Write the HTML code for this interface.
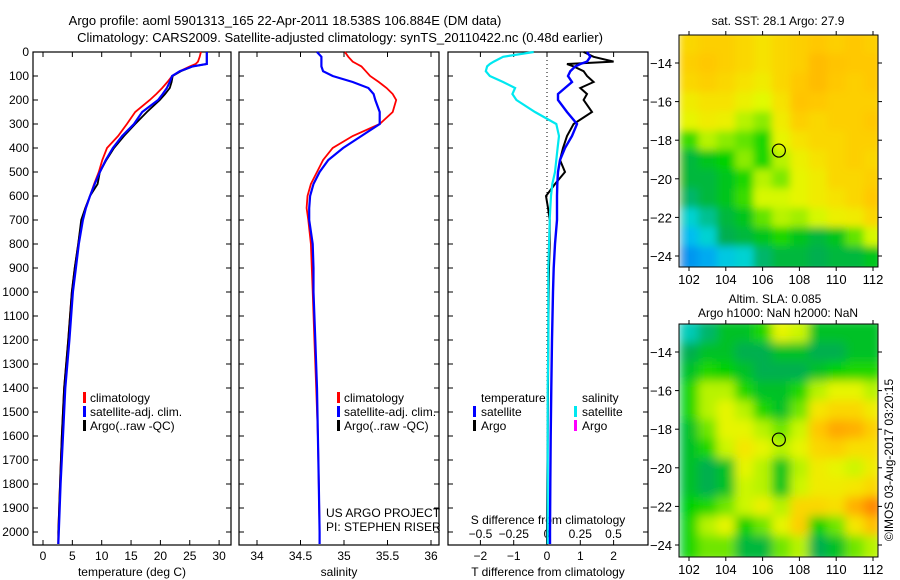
<!DOCTYPE html>
<html><head><meta charset="utf-8"><style>
body{margin:0;background:#fff;}
svg{display:block;font-family:"Liberation Sans",sans-serif;}
text{fill:#000;}
</style></head><body>
<svg id="fig" width="900" height="580" viewBox="0 0 900 580">
<defs>
<filter id="blur" x="0" y="0" width="1" height="1"><feGaussianBlur stdDeviation="4" edgeMode="duplicate"/></filter>
<filter id="blur2" x="0" y="0" width="1" height="1"><feGaussianBlur stdDeviation="5" edgeMode="duplicate"/></filter>
<clipPath id="clipM1"><rect x="679" y="35" width="199" height="232"/></clipPath>
<clipPath id="clipM2"><rect x="679" y="324" width="199" height="233"/></clipPath>
</defs>
<text x="285" y="25" font-size="13" text-anchor="middle">Argo profile: aoml 5901313_165 22-Apr-2011 18.538S 106.884E (DM data)</text>
<text x="340" y="42" font-size="13" text-anchor="middle">Climatology: CARS2009. Satellite-adjusted climatology: synTS_20110422.nc (0.48d earlier)</text>
<g id="g"></g>
</svg>
<script>
const depths=[0,20,40,50,60,80,100,125,150,175,200,250,300,350,400,450,500,550,600,650,700,800,900,1000,1200,1400,1600,1800,2000,2050];
const tempClim=[26.9,26.7,26.4,26,25,23.3,22,21.2,20.3,19.3,18.2,15.7,14.3,12.8,10.9,10.1,9.5,8.7,8,7.2,6.6,6,5.4,4.9,4.3,3.6,3.2,2.9,2.6,2.6];
const tempSat=[27.9,27.9,27.9,27.9,25.5,23.3,22,21.6,21.1,20.4,19.6,16.9,15.5,13.5,11.9,10.7,9.7,8.8,8,7.3,6.8,6.1,5.6,5.1,4.5,3.8,3.4,3.0,2.7,2.6];
const tempArgo=[27.9,27.9,27.9,27.9,25.5,23.5,22.1,21.9,21.6,20.8,19.9,17.7,15.7,13.8,12.1,10.8,9.7,9.3,8,7.2,6.5,6,5.4,4.9,4.3,3.6,3.2,2.9,2.6,2.6];
const salClim=[35.01,35.05,35.1,35.15,35.2,35.25,35.3,35.4,35.49,35.56,35.6,35.56,35.41,35.1,34.87,34.76,34.69,34.62,34.58,34.57,34.59,34.62,34.63,34.64,34.66,34.68,34.7,34.71,34.72,34.72];
const salSat=[34.69,34.74,34.74,34.74,34.74,34.76,34.87,35.1,35.28,35.34,35.36,35.41,35.41,35.2,34.99,34.82,34.72,34.65,34.61,34.6,34.6,34.64,34.65,34.65,34.67,34.69,34.7,34.71,34.72,34.72];
const dSalSat=[-0.1,-0.33,-0.4,-0.43,-0.45,-0.46,-0.43,-0.33,-0.24,-0.26,-0.23,-0.09,0.07,0.09,0.08,0.07,0.06,0.04,0.03,0.025,0.02,0.015,0.01,0.01,0.01,0.005,0.005,0.005,0.005,0.005];
const dTempSat=[1.2,1.3,1.2,1.0,0.85,0.7,0.63,0.75,0.54,0.33,0.33,0.6,0.9,0.75,0.54,0.39,0.33,0.31,0.3,0.3,0.3,0.24,0.2,0.18,0.15,0.13,0.11,0.1,0.09,0.09];
const dTempArgo=[1.1,1.4,2.0,0.6,0.8,1.1,1.2,1.4,1.0,1.2,1.1,1.35,0.8,0.6,0.48,0.39,0.54,0.24,-0.03,0.03,0.08,0.08,0.06,0.05,0.04,0.03,0.02,0.01,0.0,0.0];
const depthTicks=[0,100,200,300,400,500,600,700,800,900,1000,1100,1200,1300,1400,1500,1600,1700,1800,1900,2000];
const tempTicks=[0,5,10,15,20,25,30];
const salTicks=[34,34.5,35,35.5,36];
const salTickLabels=["34","34.5","35","35.5","36"];
const tdTicks=[-2,-1,0,1,2];
const sdTicks=[-0.5,-0.25,0,0.25,0.5];
const sdTickLabels=["\u22120.5","\u22120.25","0","0.25","0.5"];
const lonTicks=[102,104,106,108,110,112];
const latTicks=[-14,-16,-18,-20,-22,-24];
const gridLats=[-13,-14,-15,-16,-17,-18,-19,-20,-21,-22,-23,-24];
const gridLons=[102,103,104,105,106,107,108,109,110,111,112];
const sstGrid=[
[0.78,0.8,0.8,0.78,0.75,0.78,0.8,0.82,0.8,0.82,0.8],
[0.8,0.82,0.8,0.78,0.75,0.78,0.8,0.85,0.83,0.82,0.82],
[0.78,0.8,0.78,0.75,0.72,0.78,0.82,0.85,0.82,0.8,0.82],
[0.72,0.75,0.75,0.7,0.66,0.75,0.83,0.82,0.8,0.8,0.8],
[0.68,0.72,0.7,0.62,0.58,0.72,0.8,0.78,0.8,0.8,0.82],
[0.52,0.62,0.58,0.55,0.5,0.68,0.75,0.78,0.78,0.8,0.8],
[0.42,0.45,0.48,0.58,0.5,0.62,0.7,0.75,0.78,0.8,0.78],
[0.42,0.42,0.45,0.5,0.62,0.57,0.68,0.72,0.78,0.78,0.8],
[0.38,0.42,0.45,0.52,0.65,0.65,0.68,0.72,0.75,0.78,0.82],
[0.3,0.35,0.42,0.45,0.55,0.62,0.6,0.65,0.7,0.72,0.78],
[0.2,0.3,0.4,0.42,0.45,0.5,0.45,0.42,0.45,0.55,0.65],
[0.1,0.15,0.25,0.3,0.38,0.42,0.42,0.4,0.42,0.42,0.45]];
const slaGrid=[
[0.32,0.38,0.44,0.44,0.5,0.68,0.64,0.44,0.44,0.44,0.44],
[0.4,0.44,0.44,0.4,0.4,0.44,0.44,0.4,0.4,0.44,0.44],
[0.44,0.5,0.48,0.44,0.4,0.4,0.4,0.44,0.48,0.5,0.5],
[0.5,0.62,0.62,0.5,0.44,0.44,0.5,0.62,0.68,0.68,0.62],
[0.5,0.62,0.68,0.62,0.5,0.44,0.56,0.74,0.78,0.78,0.72],
[0.44,0.56,0.68,0.68,0.62,0.56,0.64,0.82,0.9,0.88,0.8],
[0.44,0.5,0.64,0.74,0.68,0.62,0.68,0.78,0.8,0.76,0.76],
[0.44,0.4,0.44,0.68,0.62,0.45,0.62,0.72,0.68,0.64,0.72],
[0.44,0.4,0.44,0.64,0.62,0.45,0.64,0.72,0.72,0.74,0.78],
[0.48,0.5,0.56,0.64,0.7,0.62,0.78,0.78,0.76,0.88,0.94],
[0.5,0.62,0.68,0.48,0.56,0.68,0.8,0.48,0.56,0.74,0.84],
[0.5,0.56,0.56,0.42,0.42,0.56,0.62,0.4,0.44,0.56,0.62]];
const floatLon=106.884, floatLat=-18.538;

const NS="http://www.w3.org/2000/svg";
const G=document.getElementById('g');
function mk(tag,attrs,parent){const e=document.createElementNS(NS,tag);for(const k in attrs)e.setAttribute(k,attrs[k]);(parent||G).appendChild(e);return e;}
const yD=d=>52+0.24*d;
const PT=52,PB=545;
const xT=t=>43+5.87*t;
const xS=s=>257+87*(s-34);
const xTD=t=>547+33.3*t;
const xSD=s=>547+133*s;
function frame(x0,x1,name){
  const r=mk('rect',{x:x0,y:PT,width:x1-x0,height:PB-PT,fill:'none',stroke:'#000','stroke-width':1.2});
  
  
  depthTicks.forEach(d=>{mk('line',{x1:x0,x2:x0+5,y1:yD(d),y2:yD(d),stroke:'#000'});mk('line',{x1:x1,x2:x1-5,y1:yD(d),y2:yD(d),stroke:'#000'});});
}
function xticks(vals,labels,fx,y,name){
  vals.forEach((v,i)=>{const x=fx(v);
    mk('line',{x1:x,x2:x,y1:PB,y2:PB-5,stroke:'#000'});mk('line',{x1:x,x2:x,y1:PT,y2:PT+5,stroke:'#000'});
    const t=mk('text',{x:x,y:y,'font-size':12,'text-anchor':'middle'});t.textContent=labels[i];
    
    });
}
function line(xs,fx,color,w,name){
  const pts=depths.map((d,i)=>fx(xs[i]).toFixed(1)+','+yD(d).toFixed(1)).join(' ');
  const p=mk('polyline',{points:pts,fill:'none',stroke:color,'stroke-width':w});
  
  
}
function txt(x,y,s,name,anchor,size){const t=mk('text',{x:x,y:y,'font-size':size||12,'text-anchor':anchor||'start'});t.textContent=s;
  
  return t;}
function legMark(x,y,color,name){const r=mk('rect',{x:x,y:y-10,width:3,height:11,fill:color});
  
  }

depthTicks.forEach(d=>{txt(29,yD(d)+4,String(d),'depth-tick-label','end');});
frame(33,231,'temperature-panel');
xticks(tempTicks,tempTicks.map(String),xT,560,'temperature-tick-label');
line(tempClim,xT,'#ff0000',1.8,'temperature-climatology-line');
line(tempArgo,xT,'#000000',1.8,'temperature-argo-line');
line(tempSat,xT,'#0000ff',2.2,'temperature-satellite-line');
txt(132,576,'temperature (deg C)','temperature-axis-title','middle');
legMark(83,402,'#ff0000','legend-climatology-mark');txt(90,402,'climatology','legend-climatology');
legMark(83,416,'#0000ff','legend-satellite-mark');txt(90,416,'satellite-adj. clim.','legend-satellite');
legMark(83,430,'#000000','legend-argo-mark');txt(90,430,'Argo(..raw -QC)','legend-argo');
frame(239,439,'salinity-panel');
xticks(salTicks,salTickLabels,xS,560,'salinity-tick-label');
line(salClim,xS,'#ff0000',1.8,'salinity-climatology-line');
line(salSat,xS,'#0000ff',2.2,'salinity-satellite-line');
txt(339,576,'salinity','salinity-axis-title','middle');
legMark(337,402,'#ff0000','legend-climatology-mark');txt(344,402,'climatology','legend-climatology');
legMark(337,416,'#0000ff','legend-satellite-mark');txt(344,416,'satellite-adj. clim.','legend-satellite');
legMark(337,430,'#000000','legend-argo-mark');txt(344,430,'Argo(..raw -QC)','legend-argo');
txt(326,517,'US ARGO PROJECT','project-credit');
txt(326,531,'PI: STEPHEN RISER','pi-credit');
frame(448,648,'difference-panel');
xticks(tdTicks,tdTicks.map(v=>v<0?'\u2212'+(-v):String(v)),xT===null?null:xTD,560,'t-difference-tick-label');
sdTicks.forEach((v,i)=>txt(xSD(v),538,sdTickLabels[i],'s-difference-tick-label','middle'));
txt(548,524,'S difference from climatology','s-difference-axis-title','middle');
txt(548,576,'T difference from climatology','t-difference-axis-title','middle');
const zl=mk('line',{x1:xTD(0),x2:xTD(0),y1:PT,y2:PB,stroke:'#000','stroke-dasharray':'1,3'});


line(dTempArgo,xTD,'#000000',2,'t-difference-argo-line');
line(dSalSat,xSD,'#00e8f0',2.2,'s-difference-satellite-line');
line(dTempSat,xTD,'#0000ff',2.4,'t-difference-satellite-line');
txt(481,402,'temperature','legend-temperature-header');
legMark(473,416,'#0000ff','legend-t-satellite-mark');txt(481,416,'satellite','legend-t-satellite');
legMark(473,430,'#000000','legend-t-argo-mark');txt(481,430,'Argo','legend-t-argo');
txt(582,402,'salinity','legend-salinity-header');
legMark(574,416,'#00e8f0','legend-s-satellite-mark');txt(582,416,'satellite','legend-s-satellite');
legMark(574,430,'#ff00ff','legend-s-argo-mark');txt(582,430,'Argo','legend-s-argo');

const stops=[[0,[10,110,240]],[0.2,[0,190,240]],[0.3,[0,210,210]],[0.4,[0,175,80]],[0.48,[0,210,0]],[0.58,[140,235,0]],[0.66,[225,250,0]],[0.74,[245,230,0]],[0.82,[255,200,0]],[0.92,[255,160,0]],[1,[255,60,0]]];
function cmap(v){for(let i=1;i<stops.length;i++){if(v<=stops[i][0]){const a=stops[i-1],b=stops[i];const f=(v-a[0])/(b[0]-a[0]);const c=a[1].map((q,k)=>Math.round(q+(b[1][k]-q)*f));return 'rgb('+c.join(',')+')';}}return 'rgb(255,60,0)';}
function drawMap(grid,top,bottom,clip,filt,name){
  const xL=lon=>689+18.4*(lon-102);
  const yL=lat=>top+28+19.3*(-14-lat);
  const grp=mk('g',{'clip-path':'url(#'+clip+')'});
  
  
  const inner=mk('g',{filter:'url(#'+filt+')'},grp);
  mk('rect',{x:679,y:top,width:199,height:bottom-top,fill:cmap(grid[0][0])},inner);
  grid.forEach((row,r)=>row.forEach((v,c)=>{
    const x0=xL(gridLons[c]-0.5),y0=yL(gridLats[r]+0.5);
    const x1=xL(gridLons[c]+0.5),y1=yL(gridLats[r]-0.5);
    const cell=mk('rect',{x:x0.toFixed(1),y:(r===0?top-5:y0).toFixed(1),width:(x1-x0+0.6).toFixed(1),height:((r===grid.length-1?bottom+5:y1)-(r===0?top-5:y0)+0.6).toFixed(1),fill:cmap(v)},inner);
    
    
  }));
  const fr=mk('rect',{x:679,y:top,width:199,height:bottom-top,fill:'none',stroke:'#000','stroke-width':1});
  
  
  lonTicks.forEach(l=>{const x=xL(l);mk('line',{x1:x,x2:x,y1:bottom,y2:bottom+4,stroke:'#000'});mk('line',{x1:x,x2:x,y1:top,y2:top-4,stroke:'#000'});
    txt(x,bottom+17,String(l),'longitude-tick-label','middle',13);});
  latTicks.forEach(l=>{const y=yL(l);mk('line',{x1:679,x2:675,y1:y,y2:y,stroke:'#000'});mk('line',{x1:878,x2:882,y1:y,y2:y,stroke:'#000'});
    txt(672,y+5,'\u2212'+(-l),'latitude-tick-label','end',13);});
  const c=mk('circle',{cx:xL(floatLon),cy:yL(floatLat),r:6.5,fill:'none',stroke:'#000','stroke-width':1.2});
  
  
}
drawMap(sstGrid,35,267,'clipM1','blur','sst-map');
drawMap(slaGrid,324,557,'clipM2','blur2','sla-map');
txt(778,25,'sat. SST: 28.1 Argo: 27.9','sst-map-title','middle');
txt(775,303,'Altim. SLA: 0.085','sla-map-title','middle');
txt(778,317,'Argo h1000: NaN h2000: NaN','sla-map-subtitle','middle');
const cr=txt(0,0,'\u00a9IMOS 03-Aug-2017 03:20:15','copyright-timestamp','middle');
cr.setAttribute('transform','translate(893,460) rotate(-90)');
</script>
</body></html>
